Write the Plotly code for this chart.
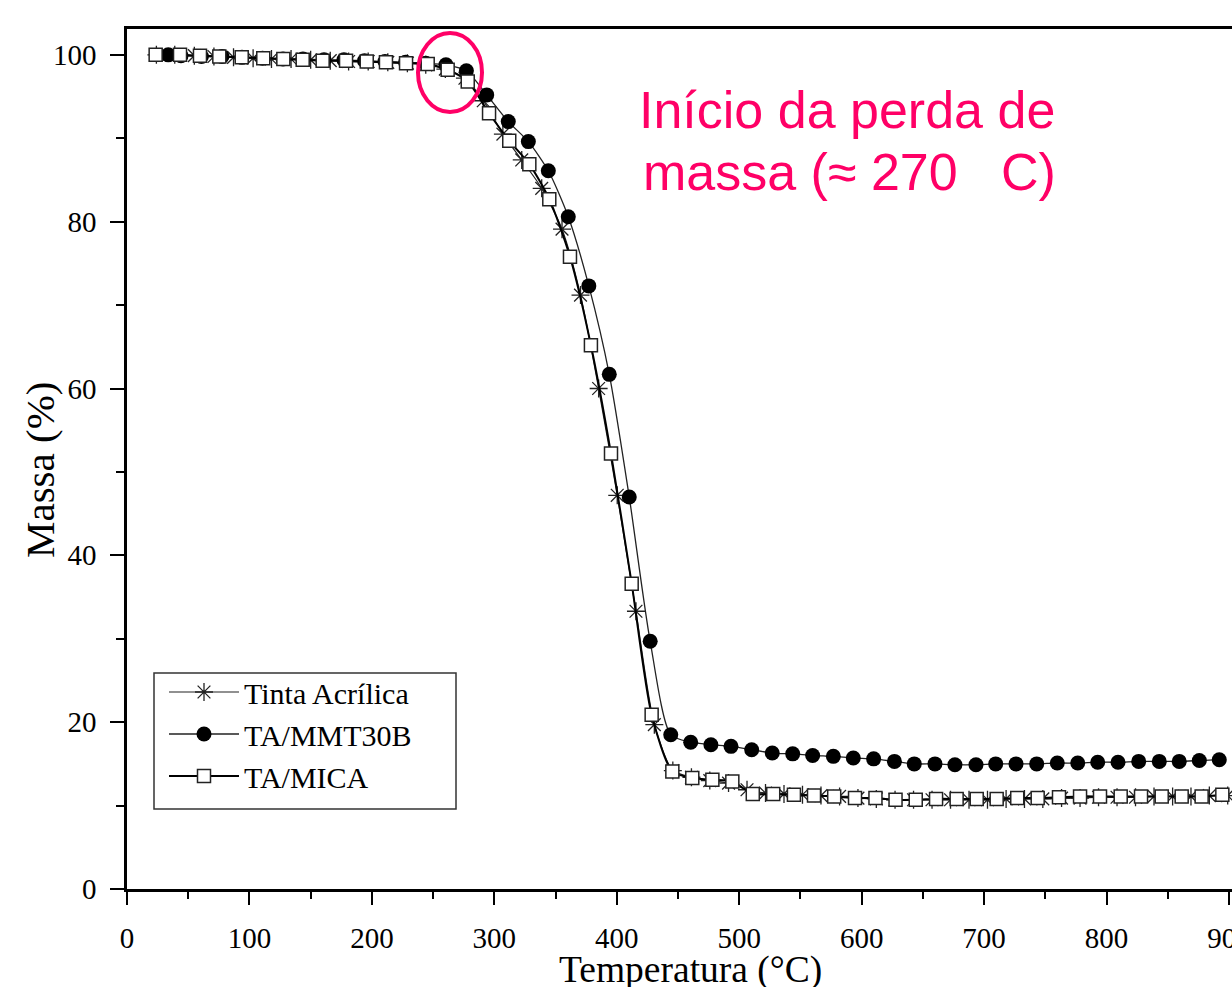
import plotly.graph_objects as go

# ---------------- data ----------------
tinta_T = [24, 39, 55, 71, 87, 103, 118, 134, 150, 166, 181, 197, 213, 229, 244, 260, 276, 291, 307,
           322.4, 338.7, 355.3, 370.4, 385.2, 400.4, 415.7, 430.7, 445.8, 461, 476, 491.3, 506.4,
           521.5, 536.6, 551.7, 566.8, 582, 597, 612, 627.3, 642.4, 657.5, 672.6, 687.7, 702.8,
           718, 733, 748, 763.3, 778.4, 793.5, 808.6, 823.7, 838.8, 854, 869, 884, 899]
tinta_M = [100.0, 100.0, 99.9, 99.8, 99.7, 99.6, 99.5, 99.5, 99.4, 99.3, 99.2, 99.2, 99.1, 99.0,
           98.8, 98.3, 97.2, 94.5, 90.5, 87.4, 84.0, 79.1, 71.2, 60.0, 47.2, 33.3, 19.7, 14.2,
           13.4, 13.0, 12.7, 11.9, 11.5, 11.4, 11.3, 11.2, 11.1, 10.9, 10.8, 10.7, 10.7, 10.7,
           10.7, 10.7, 10.7, 10.8, 10.8, 10.8, 10.9, 10.9, 11.0, 11.0, 11.0, 11.1, 11.1, 11.1,
           11.2, 11.2]

mmt_T = [33.7, 44.1, 60.8, 77.6, 93.9, 110.7, 127.4, 143.7, 160.9, 177.2, 194.0, 210.7, 227.5,
         244.0, 260.5, 277.2, 293.8, 311.4, 327.8, 344.1, 360.4, 377.2, 393.9, 410.2, 427.3,
         444.1, 460.4, 476.9, 493.3, 510.2, 527.0, 543.7, 560.0, 576.9, 593.2, 609.8, 626.8,
         643.0, 659.9, 676.2, 693.4, 709.5, 726.1, 743.0, 759.8, 776.5, 792.8, 809.4, 826.3,
         843.1, 859.4, 875.8, 892.1]
mmt_M = [100.0, 99.9, 99.8, 99.8, 99.7, 99.6, 99.5, 99.5, 99.4, 99.4, 99.3, 99.2, 99.1, 99.0,
         98.8, 98.1, 95.2, 92.0, 89.6, 86.1, 80.6, 72.3, 61.7, 47.0, 29.7, 18.5, 17.6, 17.3,
         17.1, 16.7, 16.3, 16.2, 16.0, 15.9, 15.7, 15.6, 15.3, 15.0, 15.0, 14.9, 14.9, 15.0,
         15.0, 15.0, 15.1, 15.1, 15.2, 15.2, 15.3, 15.3, 15.3, 15.4, 15.5]

mica_T = [23.4, 43.3, 59.6, 75.4, 93.7, 111.3, 127.7, 143.5, 159.8, 178.9, 195.8, 211.5, 227.9,
          245.6, 261.9, 278.3, 295.7, 312.2, 328.6, 344.9, 361.8, 378.9, 395.3, 412.2, 428.5,
          445.4, 461.7, 478.1, 494.4, 511.1, 527.8, 544.7, 561.1, 577.6, 594.6, 611.3, 627.7,
          644.2, 660.8, 677.6, 694.0, 710.3, 727.1, 743.8, 761.2, 778.4, 794.7, 811.6, 828.2,
          845.1, 861.4, 877.7, 894.6]
mica_M = [100.0, 100.0, 99.9, 99.8, 99.7, 99.6, 99.5, 99.4, 99.3, 99.3, 99.2, 99.1, 99.0, 98.9,
          98.2, 96.8, 93.0, 89.7, 86.9, 82.7, 75.8, 65.2, 52.2, 36.6, 20.9, 14.1, 13.3, 13.1,
          12.9, 11.4, 11.4, 11.3, 11.2, 11.1, 10.9, 10.9, 10.7, 10.7, 10.8, 10.8, 10.8, 10.8,
          10.9, 10.9, 11.0, 11.1, 11.1, 11.1, 11.1, 11.1, 11.1, 11.1, 11.3]

series_names = ["Tinta Acrílica", "TA/MMT30B", "TA/MICA"]
x_ticks = [0, 100, 200, 300, 400, 500, 600, 700, 800, 900]
y_ticks = [0, 20, 40, 60, 80, 100]
x_title = "Temperatura (°C)"
y_title = "Massa (%)"
note_lines = ["Início da perda de", "massa (≈ 270   C)"]

SERIF = "Liberation Serif, Times New Roman, serif"
SANS = "Liberation Sans, Arial, sans-serif"
PINK = "#FF0066"

# plot area in page px: x 127..1232, y 29..889
PW, PH = 1105, 860


def px(xp):
    return (xp - 127) / PW


def py(yp):
    return (889 - yp) / PH


fig = go.Figure()

fig.add_trace(go.Scatter(
    x=tinta_T, y=tinta_M, name=series_names[0], mode="lines+markers",
    line=dict(color="#222", width=1.2, shape="spline", smoothing=0.7),
    marker=dict(symbol="asterisk-open", size=15, color="#222",
                line=dict(color="#222", width=1.3)),
))
fig.add_trace(go.Scatter(
    x=mmt_T, y=mmt_M, name=series_names[1], mode="lines+markers",
    line=dict(color="#222", width=1.3, shape="spline", smoothing=0.7),
    marker=dict(symbol="circle", size=15, color="black",
                line=dict(color="black", width=0)),
))
fig.add_trace(go.Scatter(
    x=mica_T, y=mica_M, name=series_names[2], mode="lines+markers",
    line=dict(color="black", width=2, shape="spline", smoothing=0.7),
    marker=dict(symbol="square", size=13, color="white",
                line=dict(color="#222", width=1.5)),
))

# pink ellipse marking the onset
fig.add_shape(type="circle", xref="paper", yref="paper",
              x0=px(418), x1=px(482), y0=py(112), y1=py(33),
              line=dict(color=PINK, width=4))

# legend frame
fig.add_shape(type="rect", xref="paper", yref="paper",
              x0=px(154), x1=px(456), y0=py(809), y1=py(673),
              line=dict(color="#333", width=1.5), fillcolor="rgba(0,0,0,0)", layer="above")

fig.add_annotation(text=note_lines[0], xref="paper", yref="paper",
                   x=px(637), y=py(110),
                   xanchor="left", yanchor="middle", showarrow=False,
                   font=dict(family=SANS, size=52, color=PINK))
fig.add_annotation(text=note_lines[1], xref="paper", yref="paper",
                   x=px(641), y=py(172),
                   xanchor="left", yanchor="middle", showarrow=False,
                   font=dict(family=SANS, size=52, color=PINK))

# axis titles
fig.add_annotation(text=x_title, xref="paper", yref="paper",
                   x=px(690), y=py(970),
                   xanchor="center", yanchor="middle", showarrow=False,
                   font=dict(family=SERIF, size=37.5, color="black"))
fig.add_annotation(text=y_title, xref="paper", yref="paper",
                   x=px(40), y=py(470),
                   xanchor="center", yanchor="middle", showarrow=False, textangle=-90,
                   font=dict(family=SERIF, size=41, color="black"))

fig.update_layout(
    width=1232, height=987,
    margin=dict(l=127, r=0, t=29, b=98, autoexpand=False),
    paper_bgcolor="white", plot_bgcolor="white",
    showlegend=True,
    legend=dict(x=px(164), y=py(666), xanchor="left", yanchor="top",
                bgcolor="rgba(0,0,0,0)", borderwidth=0,
                font=dict(family=SERIF, size=30, color="black"),
                itemwidth=70, tracegroupgap=0),
    xaxis=dict(range=[0, 902.5], tickvals=x_ticks, showgrid=False, zeroline=False,
               showline=True, linecolor="black", linewidth=2.5, mirror=True,
               ticks="outside", ticklen=13, tickwidth=2, tickcolor="black",
               minor=dict(dtick=50, tick0=0, ticks="outside", ticklen=7, tickwidth=2,
                          tickcolor="black", showgrid=False),
               tickfont=dict(family=SERIF, size=29, color="black"),
               ticklabeloverflow="allow", ticklabelstandoff=8, automargin=False),
    yaxis=dict(range=[0, 103.1], tickvals=y_ticks, showgrid=False, zeroline=False,
               showline=True, linecolor="black", linewidth=2.5, mirror=False,
               ticks="outside", ticklen=14, tickwidth=2, tickcolor="black",
               minor=dict(dtick=10, tick0=0, ticks="outside", ticklen=8, tickwidth=2,
                          tickcolor="black", showgrid=False),
               tickfont=dict(family=SERIF, size=29, color="black"),
               ticklabelstandoff=8, automargin=False),
)

fig.write_html("out.html",
               config={"displayModeBar": False},
               post_script="document.body.style.margin='0';document.body.style.overflow='hidden';")
